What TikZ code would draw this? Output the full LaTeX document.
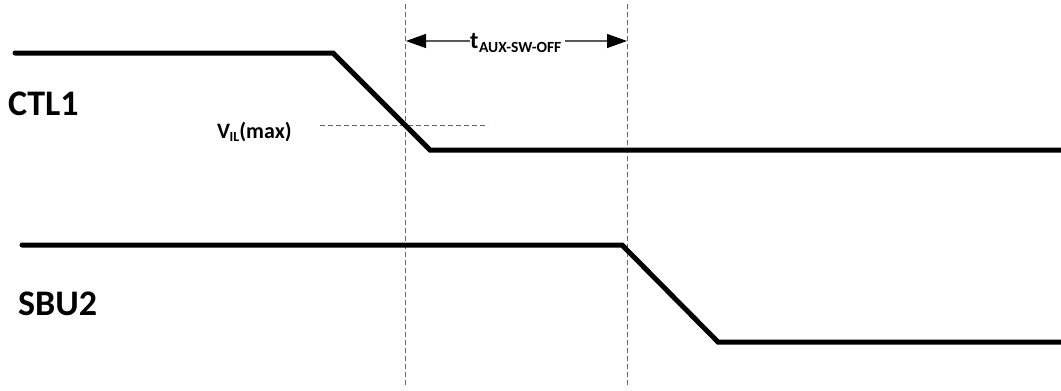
\documentclass[tikz,border=0pt]{standalone}
\usepackage{fontspec}
\setmainfont{Carlito}
\usetikzlibrary{arrows.meta}
\begin{document}
\begin{tikzpicture}[x=1pt,y=-1pt,
  wave/.style={line width=5pt,line cap=round,line join=miter},
  guide/.style={line width=0.9pt,draw=black!60,dash pattern=on 5pt off 3pt},
  dim/.style={line width=1.2pt,draw=black!65,-{Triangle[length=20pt,width=14pt,color=black]}},
  siglabel/.style={font=\fontsize{36}{40}\selectfont\bfseries,inner sep=0pt,anchor=base west},
  small/.style={inner sep=0pt,anchor=base west}]
\useasboundingbox (0,0) rectangle (1061,391);
% guides
\coordinate (g1t) at (405,4);
\coordinate (g1b) at (405,386);
\coordinate (g2t) at (627,4);
\coordinate (g2b) at (627,386);
\draw[guide] (g1t) -- (g1b);
\draw[guide] (g2t) -- (g2b);
\coordinate (vl) at (320,125);
\coordinate (vr) at (488,125);
\draw[guide] (vl) -- (vr);
% CTL1 waveform
\coordinate (c0) at (15,53);
\coordinate (c1) at (333,53);
\coordinate (c2) at (430,150);
\coordinate (c3) at (1064,150);
\draw[wave] (c0) -- (c1) -- (c2) -- (c3);
% SBU2 waveform
\coordinate (s0) at (22,245);
\coordinate (s1) at (622,245);
\coordinate (s2) at (718,342);
\coordinate (s3) at (1064,342);
\draw[wave] (s0) -- (s1) -- (s2) -- (s3);
% labels
\node[siglabel] (ctl) at (8,115) {CTL1};
\node[siglabel] (sbu) at (18,315) {SBU2};
\node[small,font=\fontsize{22}{24}\selectfont\bfseries] (vil) at (217,138) {V\kern-0.5pt\raisebox{-3pt}{\fontsize{14}{15}\selectfont IL}(max)};
\node[small,font=\fontsize{24}{26}\selectfont\bfseries] (tl) at (470,48) {t\kern0.5pt\raisebox{-4pt}{\fontsize{15.5}{17}\selectfont AUX-SW-OFF}};
% dimension arrows
\coordinate (al) at (470,41);
\coordinate (ar) at (565,41);
\coordinate (aL) at (406,41);
\coordinate (aR) at (627,41);
\draw[dim] (al) -- (aL);
\draw[dim] (ar) -- (aR);
\end{tikzpicture}
\end{document}
